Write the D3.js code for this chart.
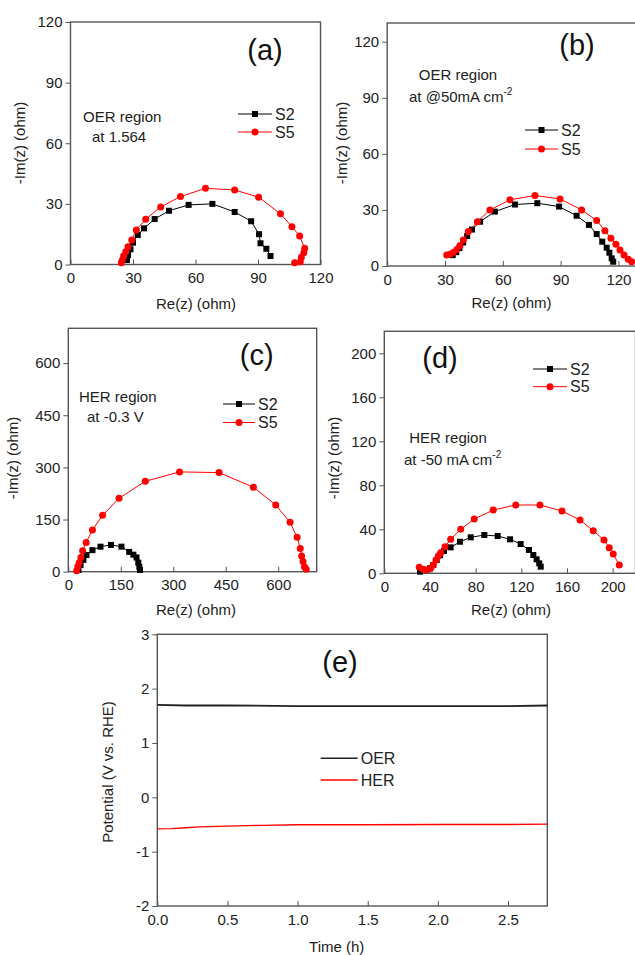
<!DOCTYPE html>
<html>
<head>
<meta charset="utf-8">
<script src="https://cdn.jsdelivr.net/npm/d3@7/dist/d3.min.js"></script>
<style>
  body { margin: 0; background: #fff; }
  svg { font-family: "Liberation Sans", Arial, sans-serif; }
  .tick text { fill: #222; font-size: 15px; }
  .tick line { stroke: #555; }
</style>
</head>
<body>
<div id="chart"></div>
<script>
// (a) OER region at 1.564  -> [Re, -Im]
const oerVoltS2 = [[27.1,2.2],[27.6,4.7],[28.8,7.5],[30.0,10.8],[32.3,14.6],[35.3,17.9],[40.4,22.5],[47.3,26.6],[56.7,29.5],[68.1,30.0],[78.8,26.0],[86.7,21.4],[90.5,15.0],[91.2,10.5],[94.0,7.8],[96.0,4.2]]
const oerVoltS5 = [[24.4,0.9],[24.9,2.2],[25.5,4.2],[26.5,6.3],[27.6,8.8],[29.4,12.1],[31.6,17.1],[36.1,22.4],[43.3,28.5],[52.8,33.6],[64.8,37.7],[78.8,36.9],[90.3,33.3],[100.8,25.1],[106.3,18.7],[110.0,14.1],[112.4,8.0],[112.0,5.8],[110.8,3.6],[110.3,1.4],[107.6,0.9]]

// (b) OER region at 50 mA cm-2
const oerCurS2 = [[34.0,5.8],[35.8,7.4],[37.5,9.6],[39.4,12.6],[41.5,16.0],[44.0,19.5],[48.2,23.7],[55.9,29.1],[66.3,32.9],[77.9,33.6],[89.2,31.8],[98.3,26.9],[104.7,22.0],[108.7,17.1],[111.6,13.0],[113.9,9.8],[115.3,7.1],[116.5,4.1],[117.3,2.3]]
const oerCurS5 = [[30.9,5.9],[32.6,6.3],[34.3,7.2],[36.1,8.8],[37.8,11.0],[39.5,13.9],[42.1,18.4],[46.8,23.7],[53.3,30.0],[63.7,35.4],[76.7,37.7],[89.7,35.9],[100.9,30.0],[108.7,24.3],[113.0,18.9],[116.1,14.8],[118.7,11.6],[120.8,8.6],[122.9,5.9],[125.1,3.6],[126.9,2.3]]

// (c) HER region at -0.3 V
const herVoltS2 = [[29,5],[35,19],[43,34],[52,48],[69,62],[92,72],[122,77],[152,72],[174,57],[186,49],[195,41],[200,26],[203,14],[205,5]]
const herVoltS5 = [[24,3],[27,14],[31,26],[36,41],[41,60],[51,84],[69,120],[98,162],[145,211],[220,260],[318,287],[431,285],[529,243],[593,192],[634,142],[654,99],[663,67],[667,45],[671,29],[675,14],[680,7]]

// (d) HER region at -50 mA cm-2
const herCurS2 = [[31.3,1.5],[40.0,4.5],[42.9,7.5],[45.9,12.1],[48.8,16.4],[52.3,20.3],[58.1,23.6],[66.3,28.7],[75.7,32.7],[87.6,34.8],[99.3,33.9],[110.1,30.9],[119.4,26.6],[126.7,21.2],[130.5,16.6],[133.4,12.7],[135.7,9.1],[137.0,6.0]]
const herCurS5 = [[30.6,5.5],[34.2,3.6],[37.1,3.0],[40.6,4.5],[42.9,7.5],[45.3,12.1],[47.3,15.7],[49.4,18.7],[53.2,24.2],[58.1,30.9],[66.9,40.0],[78.8,49.4],[95.4,57.5],[115.1,62.1],[136.3,62.1],[155.6,56.6],[171.4,48.5],[183.0,38.7],[192.4,30.3],[197.0,23.3],[200.5,17.5],[205.8,7.5]]

// (e) stability, time (h) vs potential (V vs. RHE)
const oerTime = [0, 0.2, 0.5, 1.0, 1.5, 2.0, 2.5, 2.78]
const oerPotential = [1.70, 1.69, 1.69, 1.68, 1.68, 1.68, 1.68, 1.69]
const herTime = [0, 0.1, 0.2, 0.3, 0.5, 0.75, 1.0, 1.5, 2.0, 2.5, 2.78]
const herPotential = [-0.58, -0.575, -0.56, -0.545, -0.53, -0.515, -0.505, -0.505, -0.50, -0.50, -0.495]

const RED = '#ff0000'
const FRAME = '#555'
const plain = d => String(d)

const svg = d3.select('#chart')
  .append('svg')
  .attr('width', 635)
  .attr('height', 955)

// frame + axes, returns scales
const drawFrame = (p) => {
  const x = d3.scaleLinear().domain(p.xDomain).range(p.xRange)
  const y = d3.scaleLinear().domain(p.yDomain).range(p.yRange)
  const g = svg.append('g')

  g.append('g')
    .attr('transform', 'translate(0,' + p.yRange[0] + ')')
    .call(d3.axisBottom(x).tickValues(p.xTicks).tickSizeInner(-5).tickSizeOuter(0).tickPadding(8).tickFormat(p.xFormat || plain))
    .call(a => a.select('.domain').remove())

  g.append('g')
    .attr('transform', 'translate(' + p.xRange[0] + ',0)')
    .call(d3.axisLeft(y).tickValues(p.yTicks).tickSizeInner(5).tickSizeOuter(0).tickPadding(3).tickFormat(plain))
    .call(a => a.select('.domain').remove())

  g.append('rect')
    .attr('x', p.xRange[0])
    .attr('y', p.yRange[1])
    .attr('width', p.xRange[1] - p.xRange[0])
    .attr('height', p.yRange[0] - p.yRange[1])
    .attr('fill', 'none')
    .attr('stroke', FRAME)
    .attr('stroke-width', 1.4)

  // axis titles
  g.append('text')
    .attr('x', p.xTitle[0])
    .attr('y', p.xTitle[1])
    .attr('text-anchor', 'middle')
    .attr('font-size', 15)
    .attr('fill', '#222')
    .text(p.xLabel)

  g.append('text')
    .attr('transform', 'translate(' + p.yTitle[0] + ',' + p.yTitle[1] + ') rotate(-90)')
    .attr('dy', '0.35em')
    .attr('text-anchor', 'middle')
    .attr('font-size', 15)
    .attr('fill', '#222')
    .text(p.yLabel)

  // panel tag
  g.append('text')
    .attr('x', p.tag[0])
    .attr('y', p.tag[1])
    .attr('text-anchor', 'middle')
    .attr('font-size', 29)
    .attr('fill', '#111')
    .text(p.tagText)

  return {g, x, y}
}

const addMarkers = (g, data, x, y, color, shape) => {
  if (shape === 'square') {
    g.append('g').selectAll('rect')
      .data(data)
      .enter().append('rect')
      .attr('x', d => x(d[0]) - 3)
      .attr('y', d => y(d[1]) - 3)
      .attr('width', 6)
      .attr('height', 6)
      .attr('fill', color)
  } else {
    g.append('g').selectAll('circle')
      .data(data)
      .enter().append('circle')
      .attr('cx', d => x(d[0]))
      .attr('cy', d => y(d[1]))
      .attr('r', 3.5)
      .attr('fill', color)
  }
}

const addSeries = (g, data, x, y, color, shape) => {
  g.append('path')
    .datum(data)
    .attr('fill', 'none')
    .attr('stroke', color)
    .attr('stroke-width', 1)
    .attr('d', d3.line().x(d => x(d[0])).y(d => y(d[1])))
  addMarkers(g, data, x, y, color, shape)
}

const addLegend = (g, x1, x2, ly, label, color, shape) => {
  g.append('line')
    .attr('x1', x1).attr('x2', x2)
    .attr('y1', ly).attr('y2', ly)
    .attr('stroke', color)
    .attr('stroke-width', shape ? 1 : 1.5)
  if (shape === 'square') {
    g.append('rect')
      .attr('x', (x1 + x2) / 2 - 3).attr('y', ly - 3)
      .attr('width', 6).attr('height', 6)
      .attr('fill', color)
  } else if (shape === 'circle') {
    g.append('circle')
      .attr('cx', (x1 + x2) / 2).attr('cy', ly)
      .attr('r', 3.5)
      .attr('fill', color)
  }
  g.append('text')
    .attr('x', x2 + 3)
    .attr('y', ly + 5.5)
    .attr('font-size', 16)
    .attr('fill', '#222')
    .text(label)
}

const addNote = (g, lx, ly, txt, sup, anchor) => {
  const t = g.append('text')
    .attr('x', lx)
    .attr('y', ly)
    .attr('font-size', 15)
    .attr('fill', '#222')
    .attr('text-anchor', anchor || 'start')
    .text(txt)
  if (sup) {
    t.append('tspan').attr('dy', -7).attr('font-size', 10).text(sup)
  }
}

const reLabel = 'Re(z) (ohm)'
const imLabel = '-Im(z) (ohm)'

// (a)
const pa = drawFrame({
  xDomain: [0, 120], xRange: [70.5, 320.5], xTicks: [0, 30, 60, 90, 120],
  yDomain: [0, 120], yRange: [264.5, 22], yTicks: [0, 30, 60, 90, 120],
  xLabel: reLabel, xTitle: [196, 309], yLabel: imLabel, yTitle: [20, 143],
  tag: [265, 60], tagText: '(a)'
})
addSeries(pa.g, oerVoltS2, pa.x, pa.y, '#000', 'square')
addSeries(pa.g, oerVoltS5, pa.x, pa.y, RED, 'circle')
addLegend(pa.g, 238, 272, 114, 'S2', '#000', 'square')
addLegend(pa.g, 238, 272, 132, 'S5', RED, 'circle')
addNote(pa.g, 83, 122, 'OER region')
addNote(pa.g, 92, 142, 'at 1.564')

// (b)
const pb = drawFrame({
  xDomain: [0, 130], xRange: [387.2, 637.7], xTicks: [0, 30, 60, 90, 120],
  yDomain: [0, 130], yRange: [266, 23], yTicks: [0, 30, 60, 90, 120],
  xLabel: reLabel, xTitle: [511.5, 308], yLabel: imLabel, yTitle: [342, 143],
  tag: [577, 55], tagText: '(b)'
})
addSeries(pb.g, oerCurS2, pb.x, pb.y, '#000', 'square')
addSeries(pb.g, oerCurS5, pb.x, pb.y, RED, 'circle')
addLegend(pb.g, 525, 558, 130, 'S2', '#000', 'square')
addLegend(pb.g, 525, 558, 149, 'S5', RED, 'circle')
addNote(pb.g, 458, 80, 'OER region', null, 'middle')
addNote(pb.g, 409, 102, 'at @50mA cm', '-2')

// (c)
const pc = drawFrame({
  xDomain: [0, 710], xRange: [68.3, 316.7], xTicks: [0, 150, 300, 450, 600],
  yDomain: [0, 700], yRange: [571.7, 328.3], yTicks: [0, 150, 300, 450, 600],
  xLabel: reLabel, xTitle: [196, 615], yLabel: imLabel, yTitle: [13, 458],
  tag: [256.7, 365], tagText: '(c)'
})
addSeries(pc.g, herVoltS2, pc.x, pc.y, '#000', 'square')
addSeries(pc.g, herVoltS5, pc.x, pc.y, RED, 'circle')
addLegend(pc.g, 223, 255, 404, 'S2', '#000', 'square')
addLegend(pc.g, 223, 255, 422.5, 'S5', RED, 'circle')
addNote(pc.g, 79, 402, 'HER region')
addNote(pc.g, 87, 422, 'at -0.3 V')

// (d)
const pd = drawFrame({
  xDomain: [0, 220], xRange: [384.3, 635.5], xTicks: [0, 40, 80, 120, 160, 200],
  yDomain: [0, 220], yRange: [573.3, 331.3], yTicks: [0, 40, 80, 120, 160, 200],
  xLabel: reLabel, xTitle: [511, 615], yLabel: imLabel, yTitle: [334, 458],
  tag: [440, 368], tagText: '(d)'
})
addSeries(pd.g, herCurS2, pd.x, pd.y, '#000', 'square')
addSeries(pd.g, herCurS5, pd.x, pd.y, RED, 'circle')
addLegend(pd.g, 533, 567, 369, 'S2', '#000', 'square')
addLegend(pd.g, 533, 567, 386.7, 'S5', RED, 'circle')
addNote(pd.g, 448, 443, 'HER region', null, 'middle')
addNote(pd.g, 404, 465, 'at -50 mA cm', '-2')

// (e)
const pe = drawFrame({
  xDomain: [0, 2.78], xRange: [157.3, 547.3], xTicks: [0, 0.5, 1.0, 1.5, 2.0, 2.5], xFormat: d3.format('.1f'),
  yDomain: [-2, 3], yRange: [906, 634.3], yTicks: [-2, -1, 0, 1, 2, 3],
  xLabel: 'Time (h)', xTitle: [336.7, 952], yLabel: 'Potential (V vs. RHE)', yTitle: [108, 772],
  tag: [340, 672], tagText: '(e)'
})
const stabLine = d3.line().x(d => pe.x(d[0])).y(d => pe.y(d[1]))
pe.g.append('path')
  .datum(oerTime.map((t, i) => [t, oerPotential[i]]))
  .attr('fill', 'none')
  .attr('stroke', '#222')
  .attr('stroke-width', 1.8)
  .attr('d', stabLine)
pe.g.append('path')
  .datum(herTime.map((t, i) => [t, herPotential[i]]))
  .attr('fill', 'none')
  .attr('stroke', RED)
  .attr('stroke-width', 1.3)
  .attr('d', stabLine)
addLegend(pe.g, 320.7, 357.7, 758.3, 'OER', '#222')
addLegend(pe.g, 320.7, 357.7, 780, 'HER', RED)
</script>
</body>
</html>
